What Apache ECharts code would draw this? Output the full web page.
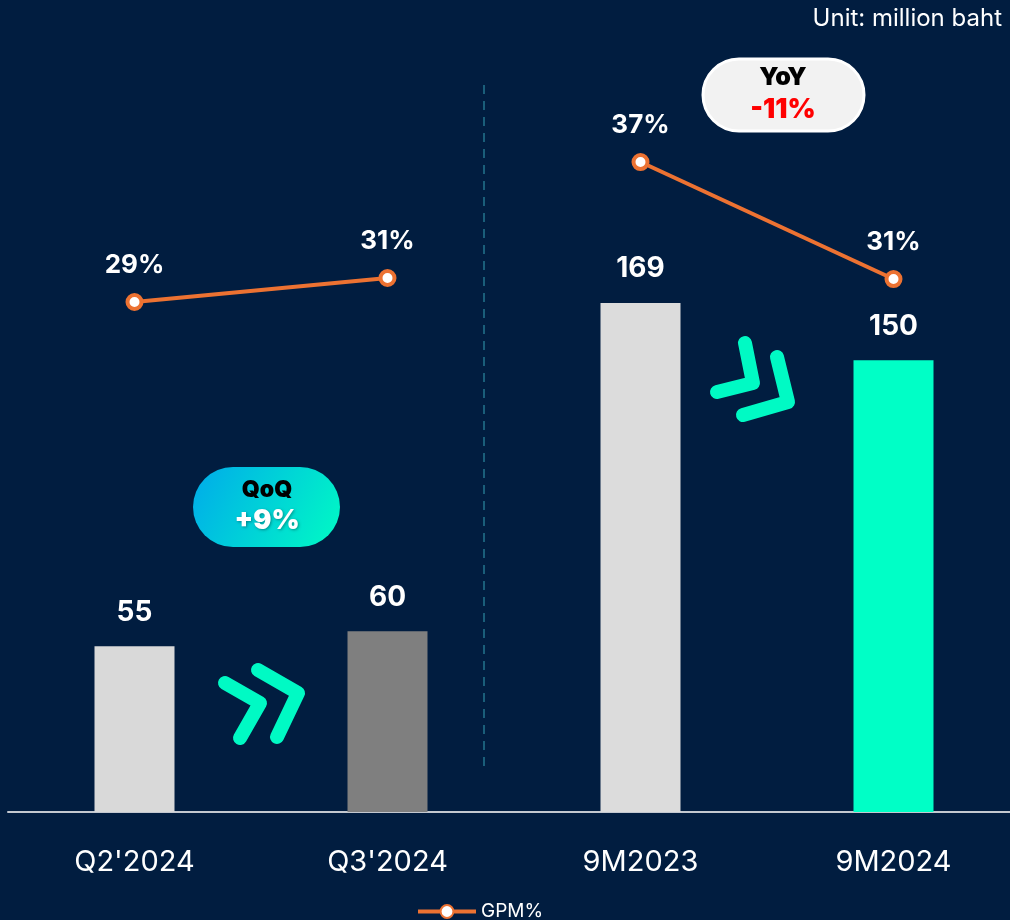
<!DOCTYPE html>
<html>
<head>
<meta charset="utf-8">
<title>GPM chart</title>
<script src="https://cdn.jsdelivr.net/npm/echarts@6/dist/echarts.min.js"></script>
<style>
  html, body { margin: 0; padding: 0; background: #011d40; }
  #chart { width: 1010px; height: 920px; }
</style>
</head>
<body>
<div id="chart"></div>
<script>
"use strict";

// categories + values
var categories = ["Q2'2024", "Q3'2024", "9M2023", "9M2024"];
var grossProfit = [55, 60, 169, 150];
var gpmPercent = [29, 31, 37, 31];

var barColors = ['#d9d9d9', '#7f7f7f', '#dcdcdc', '#00ffc6'];
var FONT = 'Inter, "Noto Sans", sans-serif';
var ORANGE = '#ec7232';
var MINT = '#00fac4';

var myChart = echarts.init(document.getElementById('chart'), null, {renderer: 'canvas'});

// the two line segments are drawn on their own (hidden) scales, like the slide
var gpmQuarter = [gpmPercent[0], gpmPercent[1], null, null];
var gpmNineMonth = [null, null, gpmPercent[2], gpmPercent[3]];

function lineSeries(data, axisIdx) {
    return {
        name: 'GPM%',
        type: 'line',
        yAxisIndex: axisIdx,
        data: data,
        connectNulls: false,
        symbol: 'circle',
        symbolSize: 14,
        itemStyle: { color: '#ffffff', borderColor: ORANGE, borderWidth: 4 },
        lineStyle: { color: ORANGE, width: 4 },
        label: {
            show: true,
            position: 'top',
            distance: 15,
            color: '#ffffff',
            fontFamily: FONT,
            fontWeight: 'bold',
            fontSize: 26,
            formatter: '{c}%'
        },
        z: 5
    };
}

// chevrons >> (decoration)
function chevron(pts) {
    return {
        type: 'polyline',
        shape: { points: pts },
        style: { stroke: MINT, lineWidth: 14, lineCap: 'round', lineJoin: 'round', fill: null },
        z: 10
    };
}

function txt(s, x, y, size, color, extra) {
    var st = {
        text: s, x: x, y: y,
        align: 'center', verticalAlign: 'middle',
        textAlign: 'center', textVerticalAlign: 'middle',
        fontFamily: FONT, fontWeight: 900, fontSize: size,
        fill: color
    };
    if (extra) { for (var k in extra) st[k] = extra[k]; }
    return { type: 'text', style: st, z: 12 };
}

var option = {
    backgroundColor: '#011d40',
    animation: false,
    grid: { left: 8, right: -10, top: 62, bottom: 108, containLabel: false, outerBoundsMode: 'none' },
    legend: {
        data: ['GPM%'],
        left: 411,
        top: 897,
        itemWidth: 58,
        itemHeight: 16,
        itemGap: 6,
        lineStyle: { width: 4 },
        textStyle: { color: '#ffffff', fontSize: 19, fontFamily: FONT }
    },
    xAxis: {
        type: 'category',
        data: categories,
        axisLine: { lineStyle: { color: '#c3c8d0', width: 2 } },
        axisTick: { show: false },
        axisLabel: { color: '#ffffff', fontSize: 29, fontFamily: FONT, margin: 36 }
    },
    yAxis: [
        { type: 'value', min: 0, max: 249, show: false },
        { type: 'value', min: -13.5, max: 49, show: false },
        { type: 'value', min: 3.67, max: 42.13, show: false }
    ],
    series: [
        {
            name: 'Gross profit',
            type: 'bar',
            data: grossProfit,
            barWidth: 80,
            itemStyle: {
                color: function (p) { return barColors[p.dataIndex]; }
            },
            label: {
                show: true,
                position: 'top',
                distance: 20,
                color: '#ffffff',
                fontFamily: FONT,
                fontWeight: 'bold',
                fontSize: 28
            }
        },
        lineSeries(gpmQuarter, 1),
        lineSeries(gpmNineMonth, 2)
    ],
    graphic: [
        {
            type: 'text',
            right: 8,
            top: 7,
            style: { text: 'Unit: million baht', fill: '#ffffff', fontSize: 24, fontFamily: FONT }
        },
        {
            type: 'line',
            shape: { x1: 484, y1: 85, x2: 484, y2: 768 },
            style: { stroke: '#1a5e7a', lineWidth: 2, lineDash: [9, 7] }
        },
        chevron([[225, 683], [260, 703], [240, 738]]),
        chevron([[258, 670], [298, 693], [277, 737]]),
        chevron([[745, 343], [753, 383], [717, 392]]),
        chevron([[777, 357], [788, 402], [743, 415]]),
        // QoQ badge
        {
            type: 'rect',
            shape: { x: 193, y: 467, width: 147, height: 80, r: 40 },
            style: {
                fill: new echarts.graphic.LinearGradient(0, 0, 1, 1, [
                    { offset: 0, color: '#00abea' },
                    { offset: 1, color: '#00fbc4' }
                ])
            },
            z: 11
        },
        txt('QoQ', 267, 490, 23, '#000000'),
        txt('+9%', 267, 521, 27, '#ffffff', { textShadowColor: 'rgba(0,0,0,0.35)', textShadowBlur: 3, textShadowOffsetX: 1, textShadowOffsetY: 1 }),
        // YoY badge
        {
            type: 'rect',
            shape: { x: 703, y: 59, width: 161, height: 72, r: 36 },
            style: { fill: '#f2f2f2', stroke: '#ffffff', lineWidth: 3 },
            z: 11
        },
        txt('YoY', 783, 77, 25, '#000000'),
        txt('-11%', 783, 110, 27, '#ff0000')
    ]
};

myChart.setOption(option);
</script>
</body>
</html>
